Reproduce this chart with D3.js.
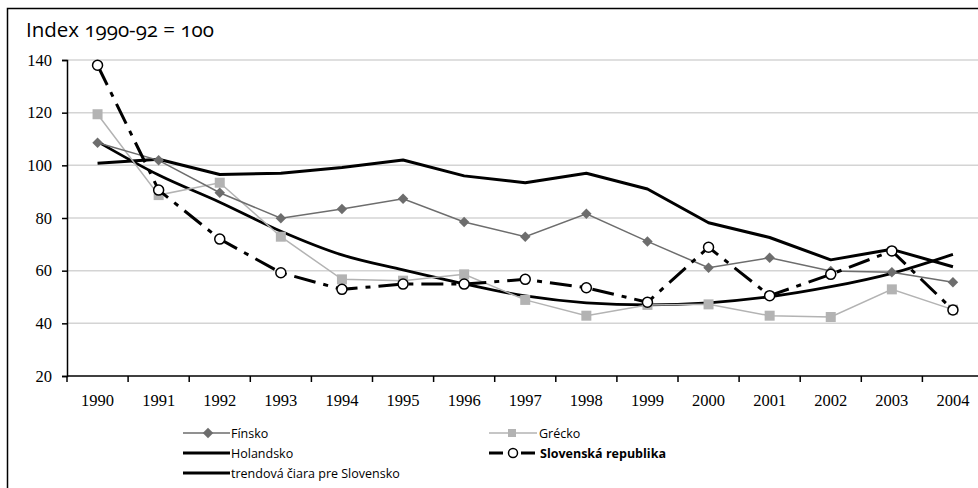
<!DOCTYPE html>
<html>
<head>
<meta charset="UTF-8">
<title>Index 1990-92 = 100</title>
<script src="https://cdn.jsdelivr.net/npm/d3@7"></script>
<style>
  body { margin: 0; background: #fff; }
  svg { display: block; }
</style>
</head>
<body>
<div id="chart"></div>
<script>
// data
var years = ["1990","1991","1992","1993","1994","1995","1996","1997","1998","1999","2000","2001","2002","2003","2004"];
var finsko    = [108.6, 101.9, 89.6, 79.9, 83.4, 87.3, 78.5, 72.9, 81.6, 71.1, 61.1, 64.9, 59.9, 59.4, 55.6];
var grecko    = [119.4, 88.7, 93.4, 72.9, 56.7, 56.2, 58.6, 48.9, 42.9, 47.0, 47.2, 42.9, 42.4, 52.9, 45.2];
var holandsko = [100.8, 102.3, 96.5, 97.0, 99.2, 102.0, 96.0, 93.4, 97.0, 91.0, 78.2, 72.6, 64.1, 68.1, 61.5];
var slovensko = [138.0, 90.6, 72.0, 59.2, 52.9, 54.9, 54.9, 56.7, 53.5, 48.0, 68.9, 50.5, 58.6, 67.5, 45.1];
var trend     = [109.0, 96.3, 86.0, 75.0, 66.0, 60.3, 55.0, 50.4, 47.8, 47.0, 47.8, 50.1, 53.9, 59.0, 66.2];
var yTicks = [20, 40, 60, 80, 100, 120, 140];

var W = 978, H = 488;
var svg = d3.select("#chart").append("svg").attr("width", W).attr("height", H);

//outer frame (cut off at right and bottom like the original)
svg.append("rect")
   .attr("x", 7.5).attr("y", 8.5)
   .attr("width", W + 20).attr("height", H + 20)
   .attr("fill", "none").attr("stroke", "#000").attr("stroke-width", 1.5);

var plotLeft = 67, plotTop = 60, plotBottom = 376, band = 61.1;

var x = d3.scaleBand().domain(years).range([plotLeft, plotLeft + band * years.length]);
var y = d3.scaleLinear().domain([20, 140]).range([plotBottom, plotTop]);
var cx = function (i) { return x(years[i]) + x.bandwidth() / 2; };

//title
svg.append("text")
   .attr("x", 26).attr("y", 37)
   .style("font-family", "'Open Sans', sans-serif")
   .style("font-feature-settings", "'onum'")
   .style("font-size", "20.5px")
   .text("Index 1990-92 = 100");

//gridlines
svg.append("g").selectAll("line")
   .data(yTicks.filter(function (d) { return d > 20; }))
   .enter().append("line")
   .attr("x1", plotLeft).attr("x2", W)
   .attr("y1", function (d) { return y(d); }).attr("y2", function (d) { return y(d); })
   .attr("stroke", "#d4d4d4").attr("stroke-width", 1.5);

//y axis
var yAxis = svg.append("g")
   .attr("transform", "translate(" + plotLeft + ",0)")
   .call(d3.axisLeft(y).tickValues(yTicks).tickSize(5).tickPadding(10));
yAxis.select(".domain").attr("stroke", "#000").attr("stroke-width", 1.5);
yAxis.selectAll(".tick line").attr("stroke", "#000").attr("stroke-width", 1.5);
yAxis.selectAll("text")
   .style("font-family", "'Liberation Serif', serif")
   .style("font-size", "16.5px").attr("fill", "#000");

//x axis: ticks between categories
var xAxis = svg.append("g").attr("transform", "translate(0," + plotBottom + ")");
xAxis.append("line")
   .attr("x1", plotLeft).attr("x2", W)
   .attr("stroke", "#000").attr("stroke-width", 1.5);
xAxis.selectAll(".tk").data(years).enter().append("line")
   .attr("x1", function (d) { return x(d); }).attr("x2", function (d) { return x(d); })
   .attr("y1", 0).attr("y2", 6)
   .attr("stroke", "#000").attr("stroke-width", 1.5);
xAxis.selectAll(".lb").data(years).enter().append("text")
   .attr("x", function (d) { return x(d) + x.bandwidth() / 2; })
   .attr("y", 30)
   .attr("text-anchor", "middle")
   .style("font-family", "'Liberation Serif', serif")
   .style("font-size", "16.5px")
   .text(function (d) { return d; });

var line = d3.line()
   .x(function (d, i) { return cx(i); })
   .y(function (d) { return y(d); });

var plot = svg.append("g");

//Holandsko
plot.append("path").datum(holandsko)
   .attr("d", line).attr("fill", "none")
   .attr("stroke", "#000").attr("stroke-width", 3).attr("stroke-linejoin", "round");

//trend line
plot.append("path").datum(trend)
   .attr("d", line.curve(d3.curveMonotoneX)).attr("fill", "none")
   .attr("stroke", "#000").attr("stroke-width", 2.8);
line.curve(d3.curveLinear);

//Grécko
plot.append("path").datum(grecko)
   .attr("d", line).attr("fill", "none")
   .attr("stroke", "#b3b3b3").attr("stroke-width", 1.5);
plot.selectAll(".sq").data(grecko).enter().append("rect")
   .attr("x", function (d, i) { return cx(i) - 5; })
   .attr("y", function (d) { return y(d) - 5; })
   .attr("width", 10).attr("height", 10)
   .attr("fill", "#b3b3b3");

//Fínsko
plot.append("path").datum(finsko)
   .attr("d", line).attr("fill", "none")
   .attr("stroke", "#6d6d6d").attr("stroke-width", 1.5);
var diamond = d3.symbol().type(d3.symbolDiamond2).size(70);
plot.selectAll(".dm").data(finsko).enter().append("path")
   .attr("d", diamond)
   .attr("transform", function (d, i) { return "translate(" + cx(i) + "," + y(d) + ")"; })
   .attr("fill", "#6d6d6d");

//Slovenská republika
plot.append("path").datum(slovensko)
   .attr("d", line).attr("fill", "none")
   .attr("stroke", "#000").attr("stroke-width", 3)
   .attr("stroke-dasharray", "22,8,5,8");
plot.selectAll(".ci").data(slovensko).enter().append("circle")
   .attr("cx", function (d, i) { return cx(i); })
   .attr("cy", function (d) { return y(d); })
   .attr("r", 5)
   .attr("fill", "#fff").attr("stroke", "#000").attr("stroke-width", 1.5);

/* legend */
var lg = svg.append("g")
   .style("font-family", "'Open Sans', sans-serif")
   .style("font-size", "12.5px");

function legText(xp, yp, t, bold) {
  lg.append("text").attr("x", xp).attr("y", yp + 5)
    .style("font-weight", bold ? "bold" : "normal").text(t);
}

// Fínsko
lg.append("line").attr("x1", 183).attr("x2", 230).attr("y1", 433).attr("y2", 433)
  .attr("stroke", "#6d6d6d").attr("stroke-width", 1.5);
lg.append("path").attr("d", diamond).attr("transform", "translate(208,433)").attr("fill", "#6d6d6d");
legText(231, 433, "Fínsko");

// Holandsko
lg.append("line").attr("x1", 183).attr("x2", 230).attr("y1", 453).attr("y2", 453)
  .attr("stroke", "#000").attr("stroke-width", 3);
legText(231, 453, "Holandsko");

// trend
lg.append("line").attr("x1", 183).attr("x2", 230).attr("y1", 473).attr("y2", 473)
  .attr("stroke", "#000").attr("stroke-width", 3);
legText(231, 473, "trendová čiara pre Slovensko");

// Grécko
lg.append("line").attr("x1", 489).attr("x2", 537).attr("y1", 433).attr("y2", 433)
  .attr("stroke", "#b3b3b3").attr("stroke-width", 1.5);
lg.append("rect").attr("x", 508).attr("y", 429).attr("width", 8).attr("height", 8).attr("fill", "#b3b3b3");
legText(539, 433, "Grécko");

// Slovenská republika
lg.append("line").attr("x1", 489).attr("x2", 537).attr("y1", 453).attr("y2", 453)
  .attr("stroke", "#000").attr("stroke-width", 3)
  .attr("stroke-dasharray", "14,7,4,7");
lg.append("circle").attr("cx", 513).attr("cy", 453).attr("r", 4.5)
  .attr("fill", "#fff").attr("stroke", "#000").attr("stroke-width", 1.5);
legText(540, 453, "Slovenská republika", true);
</script>
</body>
</html>
